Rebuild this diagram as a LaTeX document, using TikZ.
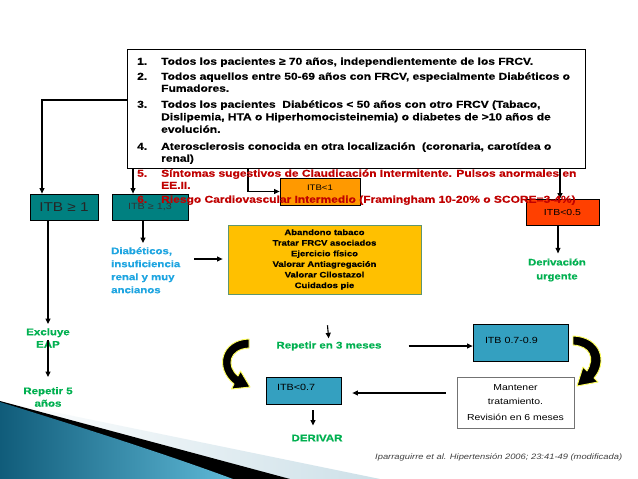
\documentclass[tikz,border=0pt]{standalone}
\usepackage{fontspec}
\setmainfont[FakeStretch=1.2,BoldFeatures={FakeBold=0.6}]{Liberation Sans}
\usetikzlibrary{arrows.meta,calc}
\definecolor{tealA}{RGB}{0,128,128}
\definecolor{tealB}{RGB}{52,160,192}
\definecolor{orng}{RGB}{255,153,0}
\definecolor{redorng}{RGB}{255,64,0}
\definecolor{gold}{RGB}{255,192,0}
\definecolor{goldbd}{RGB}{96,150,110}
\definecolor{grn}{RGB}{0,176,80}
\definecolor{blu}{RGB}{30,165,225}
\definecolor{dred}{RGB}{192,0,0}
\definecolor{swdark}{RGB}{16,92,122}
\definecolor{swlight}{RGB}{95,185,215}
\definecolor{pale}{RGB}{205,224,232}
\definecolor{glow}{RGB}{255,255,90}
\begin{document}
\begin{tikzpicture}[x=1pt,y=-1pt,
  arr/.style={line width=1.1pt,-{Triangle[length=5.5pt,width=5pt]}},
  rbox/.style={rectangle,draw=black,line width=0.8pt,inner sep=0pt},
  lstl/.style={anchor=west,inner sep=0pt,text height=7.5pt,text depth=2pt,font=\fontsize{10}{12}\selectfont\bfseries},
  gtext/.style={text=grn,font=\fontsize{9.6}{12.5}\selectfont\bfseries,align=center,inner sep=0pt},
  curvy/.style={fill=black,draw=glow,line width=0.9pt,line join=round}]
\useasboundingbox (0,0) rectangle (638,479);
\fill[white] (0,0) rectangle (638,479);
% background swoosh
\shade[left color=white,right color=pale] (0,401) -- (380,479) -- (0,479) -- cycle;
\fill[black] (0,401) -- (290,479) -- (0,479) -- cycle;
\shade[left color=swdark,right color=swlight] (0,402) .. controls (80,427) and (160,452) .. (233,479) -- (0,479) -- cycle;

% main list box
\node[rbox,fill=white,minimum width=458pt,minimum height=119pt] (lst) at (356,108.5) {};

% boxes
\node[rbox,fill=tealA,minimum width=68pt,minimum height=26pt,text=black!85,font=\fontsize{12.8}{14}\selectfont] (itbA) at (64,207) {ITB ≥ 1};
\node[rbox,fill=tealA,minimum width=76pt,minimum height=26pt,text=black!80,font=\fontsize{9}{11}\selectfont] (itbB) at (150,207) {ITB ≥ 1,3};
\node[rbox,fill=orng,minimum width=80pt,minimum height=27pt,text height=7pt,text depth=10pt,font=\fontsize{8}{10}\selectfont] (itbC) at (320,191.5) {ITB<1};
\node[rbox,fill=redorng,minimum width=73pt,minimum height=26pt,font=\fontsize{8.75}{10}\selectfont] (itbD) at (562.5,212) {ITB<0.5};
\node[rbox,fill=gold,draw=goldbd,minimum width=193pt,minimum height=69pt,align=center,font=\fontsize{7.9}{10.6}\selectfont\bfseries] (trat) at (324.5,259.5)
  {Abandono tabaco\\Tratar FRCV asociados\\Ejercicio físico\\Valorar Antiagregación\\Valorar Cilostazol\\Cuidados pie};
\node[rbox,fill=tealB,minimum width=95pt,minimum height=37pt,inner xsep=12pt,text width=71pt,align=left,text height=8pt,text depth=6.3pt,font=\fontsize{8.9}{10}\selectfont] (itb79) at (520.5,342.5) {ITB 0.7-0.9};
\node[rbox,fill=tealB,minimum width=75pt,minimum height=27pt,inner xsep=11pt,text width=53pt,align=left,text height=8pt,text depth=8.2pt,font=\fontsize{9}{10}\selectfont] (itb07) at (303.5,390.5) {ITB<0.7};
\node[rbox,fill=white,draw=black!55,minimum width=117pt,minimum height=51pt,align=center,font=\fontsize{8.7}{14}\selectfont] (mant) at (515.5,402.5)
  {Mantener\\tratamiento.\\[2pt]Revisión en 6 meses};

% free texts
\node[gtext] (excl) at (48,338) {Excluye\\EAP};
\node[gtext] (rep5) at (48,397) {Repetir 5\\años};
\node[anchor=north west,inner sep=0pt,align=left,text=blu,font=\fontsize{9.5}{13}\selectfont\bfseries] (diab) at (111,247) {Diabéticos,\\insuficiencia\\renal y muy\\ancianos};
\node[gtext] (rep3) at (329,346) {Repetir en 3 meses};
\node[gtext,font=\fontsize{9.4}{14}\selectfont\bfseries] (derurg) at (557,270) {Derivación\\urgente};
\node[gtext] (deriv) at (317,438) {DERIVAR};
\node[anchor=west,inner sep=0pt,text=black!75,font=\fontsize{7.8}{10}\selectfont\itshape] (cite) at (375,457) {Iparraguirre et al. Hipertensión 2006; 23:41-49 (modificada)};

% connectors
\draw[arr] (lst.west |- 0,100) -| (itbA.north -| 42,0);
\draw[arr] (lst.south -| 133,0) -- (itbB.north -| 133,0);
\draw[arr] (lst.south -| 248,0) |- (itbC.west);
\draw[arr] (lst.south -| 560,0) -- (itbD.north -| 560,0);
\draw[arr,shorten >=4pt] (itbA.south -| 48,0) -- (excl.north -| 48,0);
\draw[arr,shorten >=10pt] ([yshift=8pt]excl.south) -- (rep5.north);
\draw[arr,shorten >=4pt] (itbB.south -| 143,0) -- (diab.north -| 143,0);
\draw[arr,shorten <=14pt,shorten >=5pt] (diab.east |- 0,259) -- (trat.west |- 0,259);
\draw[arr,shorten <=31pt,shorten >=3pt] (trat.south) -- (rep3.north);
\draw[arr,shorten <=27pt] (rep3.east) -- (itb79.west |- rep3.east);
\draw[arr,shorten >=5pt] (itbD.south -| 558,0) -- (derurg.north -| 558,0);
\draw[arr,shorten <=11pt,shorten >=11pt] (mant.west |- 0,393) -- (itb07.east |- 0,393);
\draw[arr,shorten <=6pt,shorten >=9pt] (itb07.south -| 313,0) -- (deriv.north -| 313,0);

% curved block arrows
\filldraw[curvy] (573,336) .. controls (601,337) and (608,362) .. (594,378)
  -- (598,382) -- (577,386) -- (583,367) -- (587,371)
  .. controls (595,358) and (590,346) .. (573,345) -- cycle;
\filldraw[curvy] (249,339) .. controls (221,340) and (214,368) .. (234,384)
  -- (231.5,389) -- (250,387) -- (240.5,371) -- (238,376)
  .. controls (226,366) and (229,349) .. (249,348) -- cycle;

% list text (on top)
\node[lstl] (n1) at (137,62) {1.};
\node[lstl] (t1) at (161,62) {Todos los pacientes ≥ 70 años, independientemente de los FRCV.};
\node[lstl] (n2) at (137,77) {2.};
\node[lstl] (t2a) at (161,77) {Todos aquellos entre 50-69 años con FRCV, especialmente Diabéticos o};
\node[lstl] (t2b) at (161,89) {Fumadores.};
\node[lstl] (n3) at (137,105) {3.};
\node[lstl] (t3a) at (161,105) {Todos los pacientes\ \ Diabéticos < 50 años con otro FRCV (Tabaco,};
\node[lstl] (t3b) at (161,117.5) {Dislipemia, HTA o Hiperhomocisteinemia) o diabetes de >10 años de};
\node[lstl] (t3c) at (161,130) {evolución.};
\node[lstl] (n4) at (137,147) {4.};
\node[lstl] (t4a) at (161,147) {Aterosclerosis conocida en otra localización\ \ (coronaria, carotídea o};
\node[lstl] (t4b) at (161,159) {renal)};
\node[lstl,text=dred] (n5) at (137,174) {5.};
\node[lstl,text=dred] (t5a) at (161,174) {Síntomas sugestivos de Claudicación Intermitente. Pulsos anormales en};
\node[lstl,text=dred] (t5b) at (161,186) {EE.II.};
\node[lstl,text=dred] (n6) at (137,200) {6.};
\node[lstl,text=dred] (t6) at (161,200) {Riesgo Cardiovascular Intermedio (Framingham 10-20\% o SCORE=3-4\%)};
\end{tikzpicture}
\end{document}
